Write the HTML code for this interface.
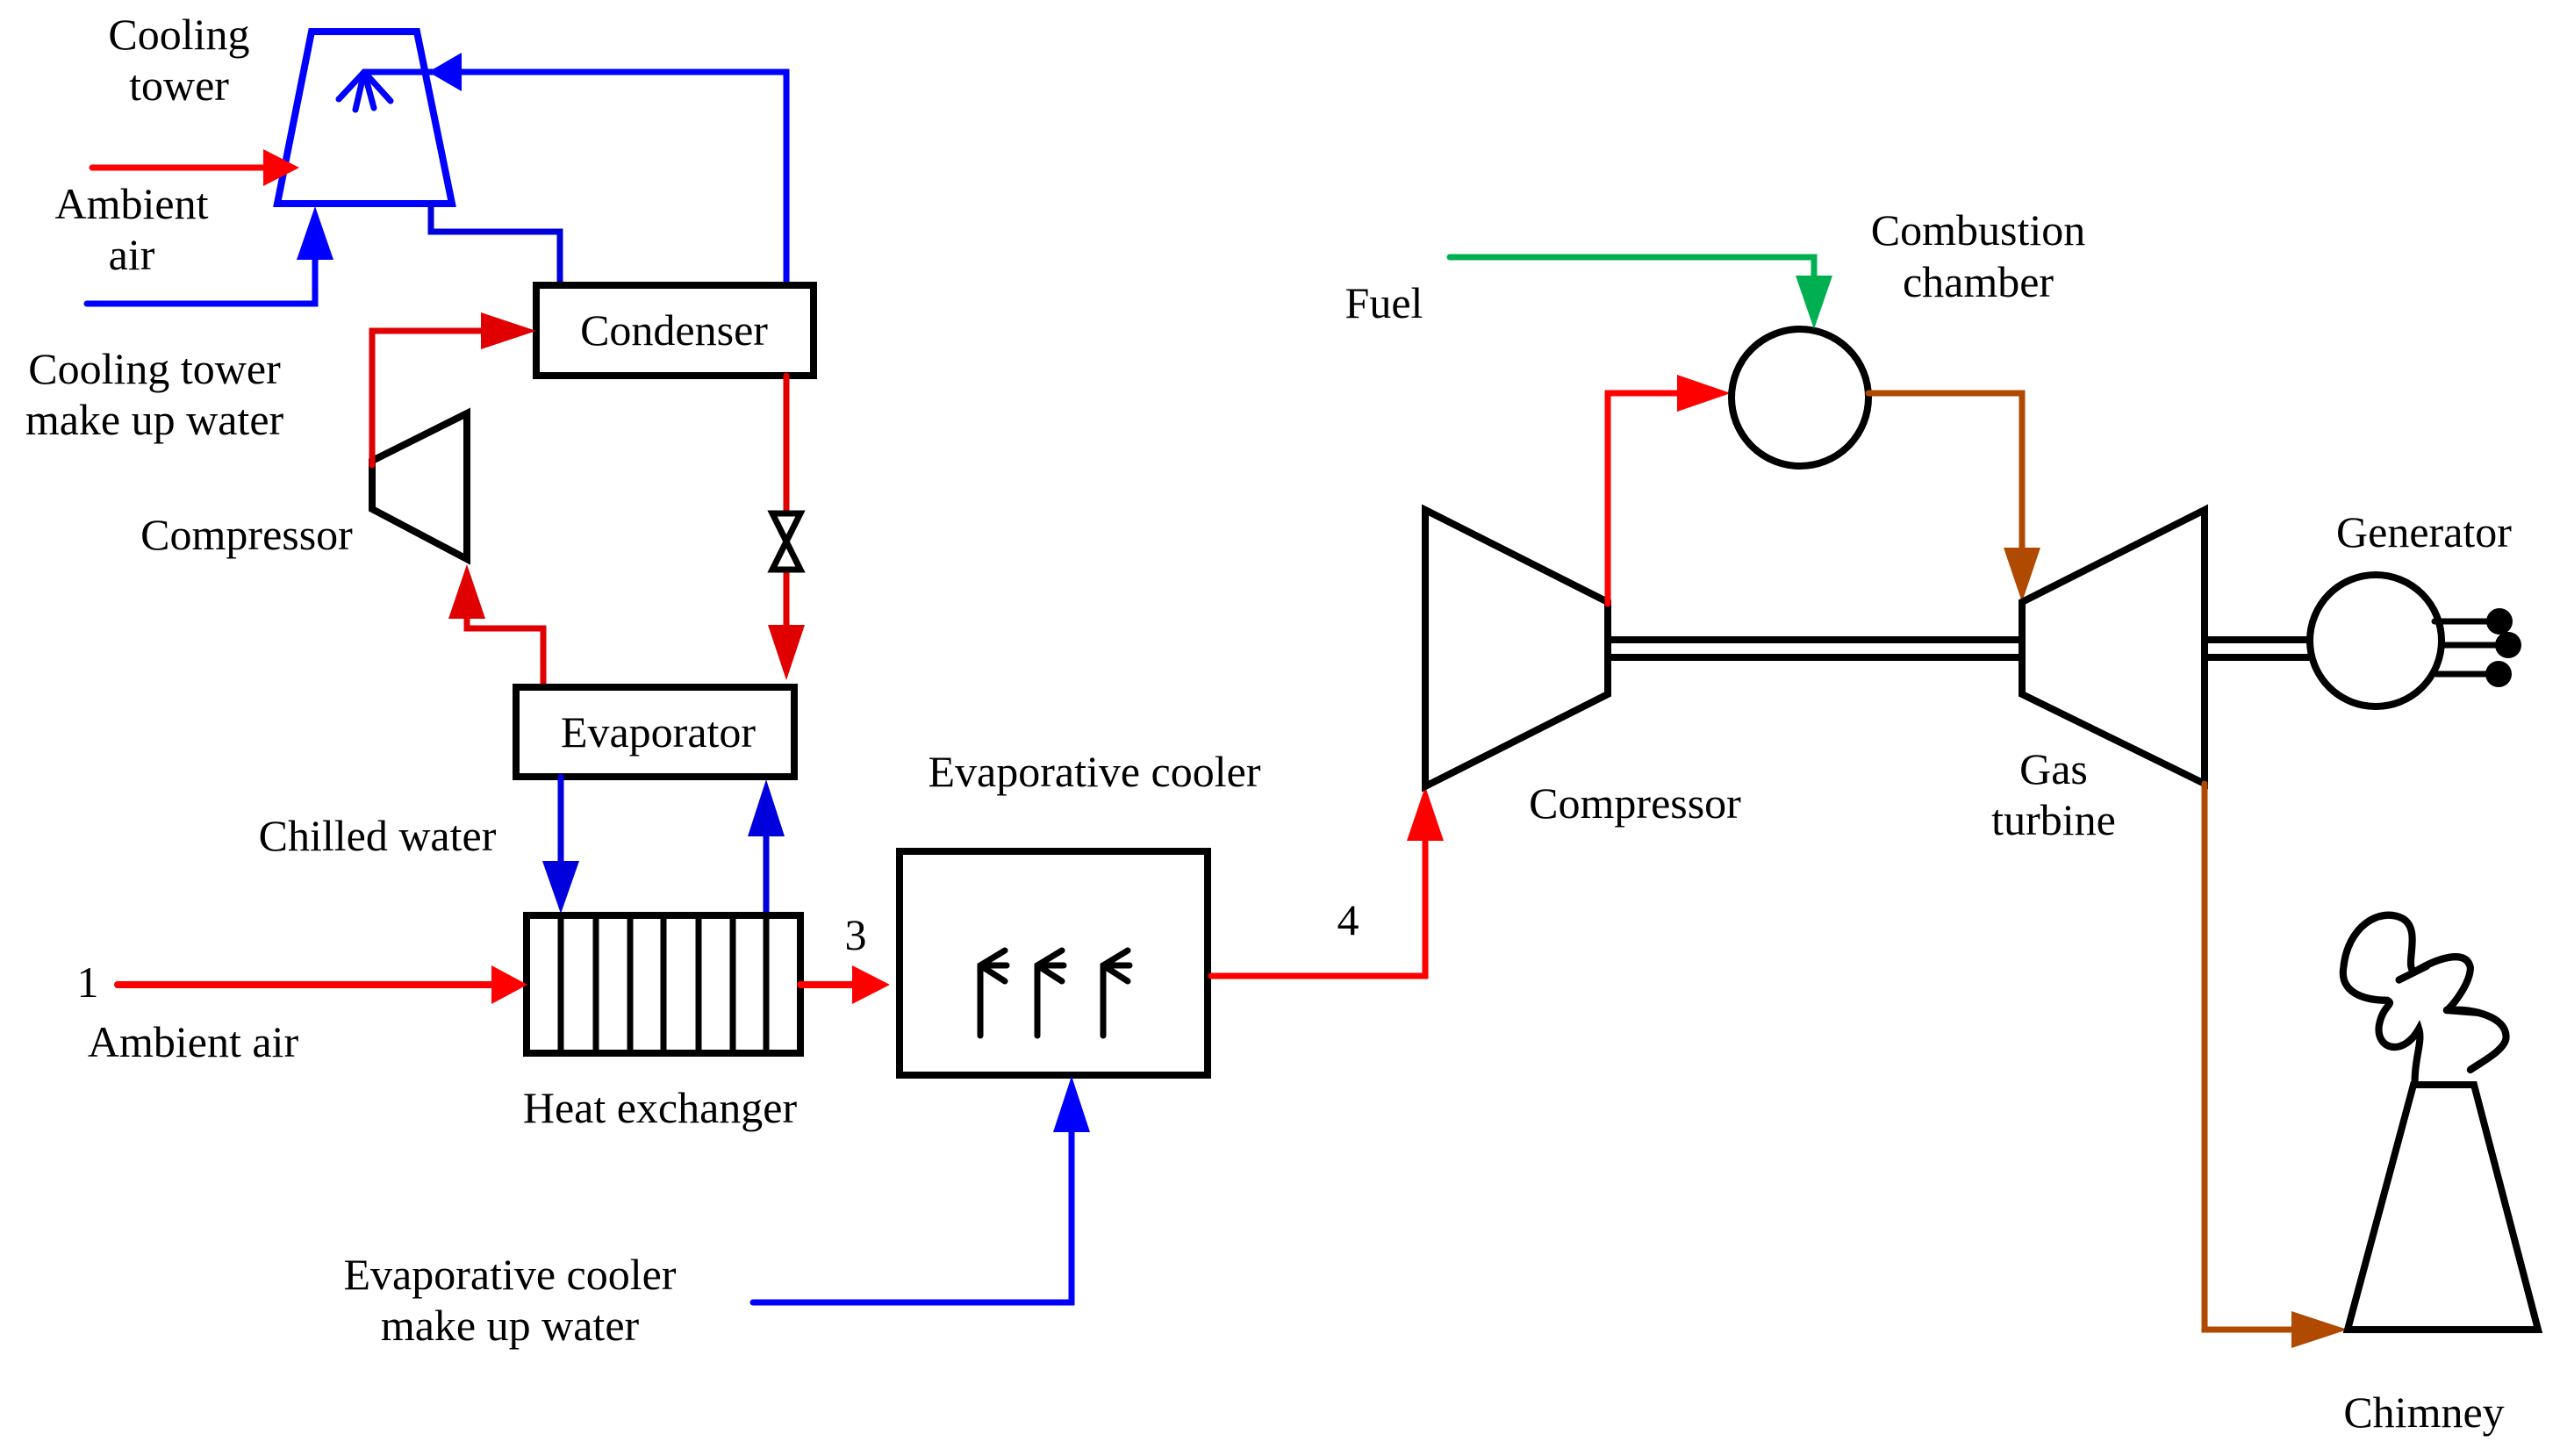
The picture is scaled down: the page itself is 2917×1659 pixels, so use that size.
<!DOCTYPE html>
<html><head><meta charset="utf-8"><style>
html,body{margin:0;padding:0;background:#fff}
svg{display:block}
text{font-family:"Liberation Serif",serif;font-size:50px;fill:#000}
</style></head><body>
<svg width="2917" height="1659" viewBox="0 0 2917 1659" xmlns="http://www.w3.org/2000/svg">
<g fill="none" stroke-linejoin="miter" stroke-linecap="round">
<polygon points="355,36 475,36 515,232 316,232" stroke="#0000ff" stroke-width="8"/>
<polyline points="896,324 896,82 415,82" stroke="#0000ff" stroke-width="7"/>
<polygon points="488,82 526,60 526,104" fill="#0000ff" stroke="none"/>
<g stroke="#0000ff" stroke-width="7">
<line x1="415" y1="82" x2="386" y2="113"/><line x1="415" y1="82" x2="405" y2="125"/>
<line x1="415" y1="82" x2="426" y2="123"/><line x1="415" y1="82" x2="445" y2="115"/>
</g>
<line x1="105" y1="191" x2="305" y2="191" stroke="#ff0000" stroke-width="7"/>
<polygon points="341,191 300,170 300,212" fill="#ff0000" stroke="none"/>
<polyline points="99,346 359,346 359,290" stroke="#0000ff" stroke-width="7"/>
<polygon points="359,235 338,296 380,296" fill="#0000ff" stroke="none"/>
<polyline points="491,232 491,264 638,264 638,326" stroke="#0000dd" stroke-width="7"/>
<rect x="611" y="325" width="316" height="103" stroke="#000" stroke-width="8" fill="#fff"/>
<polyline points="424,528 424,377 555,377" stroke="#e00000" stroke-width="7"/>
<polygon points="611,377 548,356 548,398" fill="#e00000" stroke="none"/>
<polygon points="424,525 532,471 532,637 424,580" stroke="#000" stroke-width="8" fill="#fff"/>
<line x1="424" y1="377" x2="424" y2="530" stroke="#e00000" stroke-width="7"/>
<polyline points="619,781 619,716 532,716 532,700" stroke="#e00000" stroke-width="7"/>
<polygon points="532,643 511,705 553,705" fill="#e00000" stroke="none"/>
<line x1="896" y1="428" x2="896" y2="585" stroke="#e00000" stroke-width="7"/>
<line x1="896" y1="649" x2="896" y2="720" stroke="#e00000" stroke-width="7"/>
<polygon points="880,585 912,585 880,649 912,649" stroke="#000" stroke-width="7" fill="none"/>
<polygon points="896,775 875,712 917,712" fill="#e00000" stroke="none"/>
<rect x="588" y="783" width="317" height="102" stroke="#000" stroke-width="8" fill="#fff"/>
<line x1="639" y1="885" x2="639" y2="985" stroke="#0000dd" stroke-width="7"/>
<polygon points="639,1041 618,981 660,981" fill="#0000dd" stroke="none"/>
<line x1="873" y1="1049" x2="873" y2="950" stroke="#0000dd" stroke-width="7"/>
<polygon points="873,888 852,953 894,953" fill="#0000dd" stroke="none"/>
<rect x="600" y="1043" width="312" height="157" stroke="#000" stroke-width="8" fill="#fff"/>
<g stroke="#000" stroke-width="7">
<line x1="639" y1="1043" x2="639" y2="1200"/><line x1="679" y1="1043" x2="679" y2="1200"/>
<line x1="718" y1="1043" x2="718" y2="1200"/><line x1="756" y1="1043" x2="756" y2="1200"/>
<line x1="796" y1="1043" x2="796" y2="1200"/><line x1="835" y1="1043" x2="835" y2="1200"/>
<line x1="873" y1="1043" x2="873" y2="1200"/>
</g>
<line x1="134" y1="1122" x2="565" y2="1122" stroke="#ff0000" stroke-width="8"/>
<polygon points="601,1122 560,1100 560,1144" fill="#ff0000" stroke="none"/>
<line x1="912" y1="1122" x2="975" y2="1122" stroke="#ff0000" stroke-width="8"/>
<polygon points="1014,1122 971,1100 971,1144" fill="#ff0000" stroke="none"/>
<rect x="1025" y="970" width="351" height="255" stroke="#000" stroke-width="8" fill="#fff"/>
<g stroke="#000" stroke-width="7">
<path d="M1117,1180 V1100 L1145,1083 M1117,1100 H1147 M1117,1100 L1145,1118"/>
<path d="M1182,1180 V1100 L1210,1083 M1182,1100 H1212 M1182,1100 L1210,1118"/>
<path d="M1257,1180 V1100 L1285,1083 M1257,1100 H1287 M1257,1100 L1285,1118"/>
</g>
<polyline points="858,1484 1221,1484 1221,1285" stroke="#0000ff" stroke-width="7"/>
<polygon points="1221,1226 1200,1290 1242,1290" fill="#0000ff" stroke="none"/>
<polyline points="1380,1112 1624,1112 1624,955" stroke="#ff0000" stroke-width="7"/>
<polygon points="1624,896 1603,958 1645,958" fill="#ff0000" stroke="none"/>
<polygon points="1624,581 1832,686 1832,791 1624,896" stroke="#000" stroke-width="8" fill="#fff"/>
<polyline points="1832,688 1832,448 1915,448" stroke="#ff0000" stroke-width="7"/>
<polygon points="1972,448 1911,427 1911,469" fill="#ff0000" stroke="none"/>
<circle cx="2051" cy="453" r="78" stroke="#000" stroke-width="8" fill="#fff"/>
<polyline points="1652,293 2067,293 2067,318" stroke="#00b050" stroke-width="7"/>
<polygon points="2067,375 2046,314 2088,314" fill="#00b050" stroke="none"/>
<polyline points="2129,448 2304,448 2304,628" stroke="#b04a00" stroke-width="7"/>
<polygon points="2304,686 2283,624 2325,624" fill="#b04a00" stroke="none"/>
<line x1="1832" y1="729" x2="2304" y2="729" stroke="#000" stroke-width="8"/>
<line x1="1832" y1="749" x2="2304" y2="749" stroke="#000" stroke-width="8"/>
<polygon points="2304,686 2512,581 2512,893 2304,791" stroke="#000" stroke-width="8" fill="#fff"/>
<line x1="2512" y1="729" x2="2632" y2="729" stroke="#000" stroke-width="8"/>
<line x1="2512" y1="749" x2="2632" y2="749" stroke="#000" stroke-width="8"/>
<circle cx="2707" cy="730" r="75" stroke="#000" stroke-width="8" fill="#fff"/>
<g stroke="#000" stroke-width="7">
<line x1="2774" y1="708" x2="2846" y2="708"/><line x1="2782" y1="735" x2="2856" y2="735"/><line x1="2776" y1="768" x2="2846" y2="768"/>
</g>
<circle cx="2848" cy="708" r="15" fill="#000"/><circle cx="2858" cy="735" r="15" fill="#000"/><circle cx="2847" cy="768" r="15" fill="#000"/>
<polyline points="2512,893 2512,1515 2615,1515" stroke="#b04a00" stroke-width="7"/>
<polygon points="2675,1515 2611,1494 2611,1536" fill="#b04a00" stroke="none"/>
<polygon points="2750,1236 2819,1236 2892,1515 2675,1515" stroke="#000" stroke-width="8" fill="#fff"/>
<g transform="translate(1500,200) scale(0.9037,0.9305)" stroke="#000" stroke-width="9">
<path d="M1385,1108 C1385,1080 1395,1060 1390,1045 C1370,1080 1335,1070 1340,1040 C1345,1015 1360,1015 1350,1010 C1320,1010 1290,1000 1295,970 C1300,920 1340,895 1370,910 C1395,925 1370,970 1385,975 C1410,960 1450,945 1455,970 C1455,990 1430,1020 1425,1022 C1460,1020 1500,1030 1500,1055 C1500,1070 1470,1085 1455,1095"/>
<path d="M1365,985 L1400,968 M1425,1022 L1465,1025"/>
</g>
</g>
<g text-anchor="middle">
<text x="204" y="56">Cooling</text><text x="204" y="114">tower</text>
<text x="150" y="249">Ambient</text><text x="150" y="307">air</text>
<text x="176" y="437">Cooling tower</text><text x="176" y="495">make up water</text>
<text x="281" y="626">Compressor</text>
<text x="768" y="393">Condenser</text>
<text x="750" y="851">Evaporator</text>
<text x="430" y="969">Chilled water</text>
<text x="1247" y="896">Evaporative cooler</text>
<text x="100" y="1136">1</text>
<text x="220" y="1204">Ambient air</text>
<text x="975" y="1082">3</text>
<text x="752" y="1279">Heat exchanger</text>
<text x="581" y="1469">Evaporative cooler</text>
<text x="581" y="1527">make up water</text>
<text x="1536" y="1065">4</text>
<text x="1577" y="362">Fuel</text>
<text x="2254" y="279">Combustion</text><text x="2254" y="338">chamber</text>
<text x="1863" y="932">Compressor</text>
<text x="2340" y="893">Gas</text><text x="2340" y="951">turbine</text>
<text x="2762" y="623">Generator</text>
<text x="2762" y="1626">Chimney</text>
</g>
</svg>
</body></html>
